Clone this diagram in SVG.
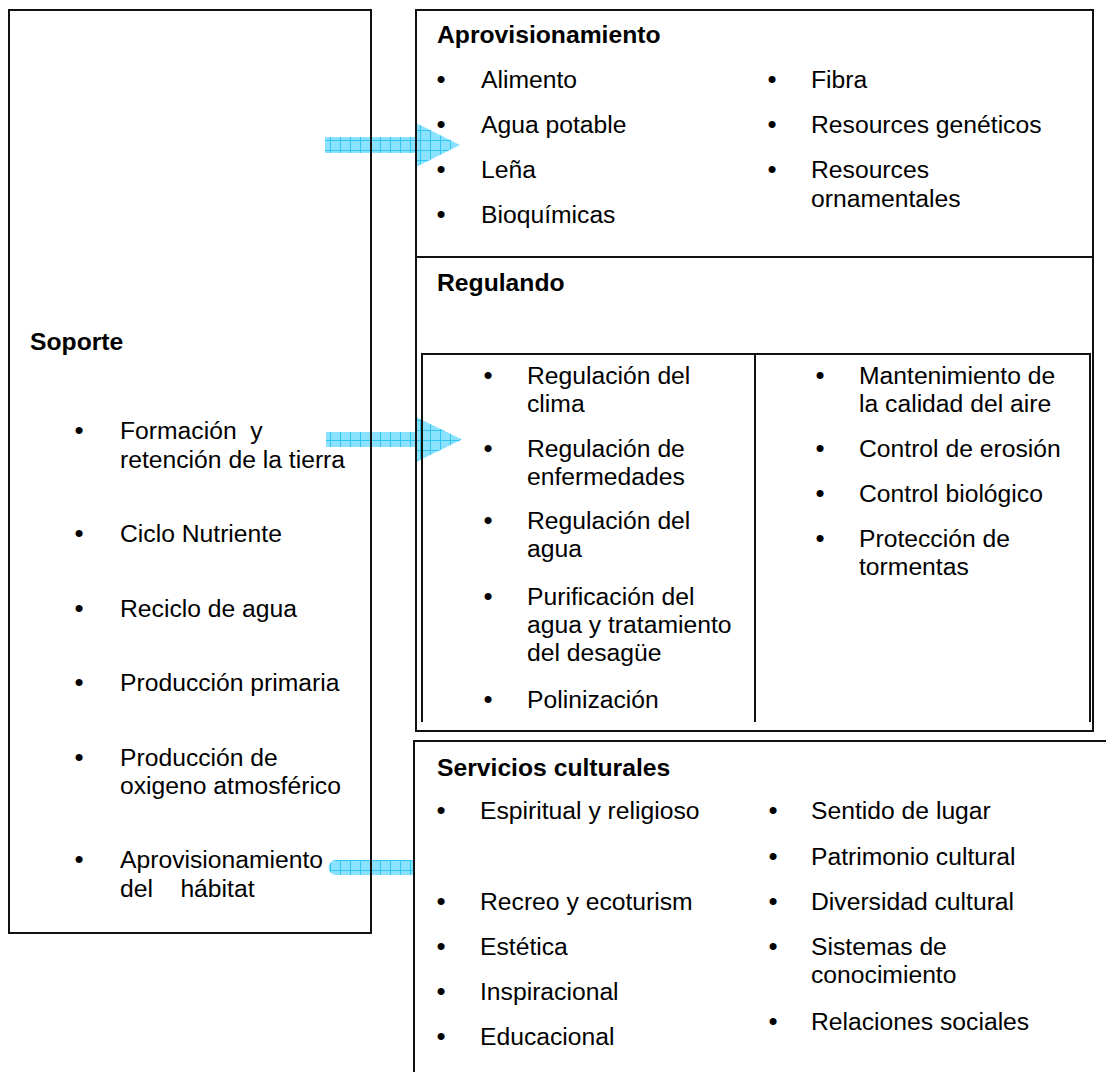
<svg xmlns="http://www.w3.org/2000/svg" width="1106" height="1072" viewBox="0 0 1106 1072">
<defs>
<pattern id="grid" width="10" height="10" patternUnits="userSpaceOnUse">
<rect width="10" height="10" fill="#84e0ff"/>
<path d="M0,0.5 H10 M0.5,0 V10" stroke="#26c2f0" stroke-width="1"/>
</pattern>
<style>
text{font-family:"Liberation Sans",Arial,sans-serif;font-size:24.7px;fill:#000;white-space:pre}
.b{font-weight:bold}
.d{font-size:26px;text-anchor:middle}
.ln{fill:none;stroke:#111;stroke-width:2}
.arr{fill:url(#grid);opacity:0.95}
</style>
</defs>
<rect width="1106" height="1072" fill="#fff"/>
<g id="connectors">
<path class="arr" d="M325,137 H416 V123 L460,145 L416,167 V153 H325 Z"/>
<path class="arr" d="M326,432 H416 V417 L462,439.5 L416,462 V447 H326 Z"/>
<path class="arr" d="M414,860 H336 A7.5,7.5 0 0 0 336,875 H414 Z"/>
</g>
<g id="soporte">
<rect class="ln" x="9" y="10" width="362" height="923"/>
<text class="b" x="30" y="350">Soporte</text>
<text class="d" x="79" y="439">•</text><text x="120" y="439">Formación  y</text><text x="120" y="468">retención de la tierra</text>
<text class="d" x="79" y="542">•</text><text x="120" y="542">Ciclo Nutriente</text>
<text class="d" x="79" y="617">•</text><text x="120" y="617">Reciclo de agua</text>
<text class="d" x="79" y="691">•</text><text x="120" y="691">Producción primaria</text>
<text class="d" x="79" y="766">•</text><text x="120" y="766">Producción de</text><text x="120" y="794">oxigeno atmosférico</text>
<text class="d" x="79" y="868">•</text><text x="120" y="868">Aprovisionamiento</text><text x="120" y="897">del    hábitat</text>
</g>
<g id="aprovisionamiento">
<rect class="ln" x="416" y="10" width="677" height="721"/>
<text class="b" x="437" y="43">Aprovisionamiento</text>
<text class="d" x="441" y="88">•</text><text x="481" y="88">Alimento</text>
<text class="d" x="441" y="133">•</text><text x="481" y="133">Agua potable</text>
<text class="d" x="441" y="178">•</text><text x="481" y="178">Leña</text>
<text class="d" x="441" y="223">•</text><text x="481" y="223">Bioquímicas</text>
<text class="d" x="772" y="88">•</text><text x="811" y="88">Fibra</text>
<text class="d" x="772" y="133">•</text><text x="811" y="133">Resources genéticos</text>
<text class="d" x="772" y="178">•</text><text x="811" y="178">Resources</text><text x="811" y="207">ornamentales</text>
</g>
<g id="regulando">
<path class="ln" d="M416,257 H1093"/>
<text class="b" x="437" y="291">Regulando</text>
<path class="ln" d="M422,722 V354 H1090 V722 M755,354 V722"/>
<text class="d" x="488" y="384">•</text><text x="527" y="384">Regulación del</text><text x="527" y="412">clima</text>
<text class="d" x="488" y="457">•</text><text x="527" y="457">Regulación de</text><text x="527" y="485">enfermedades</text>
<text class="d" x="488" y="529">•</text><text x="527" y="529">Regulación del</text><text x="527" y="557">agua</text>
<text class="d" x="488" y="605">•</text><text x="527" y="605">Purificación del</text><text x="527" y="633">agua y tratamiento</text><text x="527" y="661">del desagüe</text>
<text class="d" x="488" y="708">•</text><text x="527" y="708">Polinización</text>
<text class="d" x="820" y="384">•</text><text x="859" y="384">Mantenimiento de</text><text x="859" y="412">la calidad del aire</text>
<text class="d" x="820" y="457">•</text><text x="859" y="457">Control de erosión</text>
<text class="d" x="820" y="502">•</text><text x="859" y="502">Control biológico</text>
<text class="d" x="820" y="547">•</text><text x="859" y="547">Protección de</text><text x="859" y="575">tormentas</text>
</g>
<g id="culturales">
<path class="ln" d="M414,1072 V741 H1106"/>
<text class="b" x="437" y="776">Servicios culturales</text>
<text class="d" x="441" y="819">•</text><text x="480" y="819">Espiritual y religioso</text>
<text class="d" x="441" y="910">•</text><text x="480" y="910">Recreo y ecoturism</text>
<text class="d" x="441" y="955">•</text><text x="480" y="955">Estética</text>
<text class="d" x="441" y="1000">•</text><text x="480" y="1000">Inspiracional</text>
<text class="d" x="441" y="1045">•</text><text x="480" y="1045">Educacional</text>
<text class="d" x="773" y="819">•</text><text x="811" y="819">Sentido de lugar</text>
<text class="d" x="773" y="865">•</text><text x="811" y="865">Patrimonio cultural</text>
<text class="d" x="773" y="910">•</text><text x="811" y="910">Diversidad cultural</text>
<text class="d" x="773" y="955">•</text><text x="811" y="955">Sistemas de</text><text x="811" y="983">conocimiento</text>
<text class="d" x="773" y="1030">•</text><text x="811" y="1030">Relaciones sociales</text>
</g>
</svg>
